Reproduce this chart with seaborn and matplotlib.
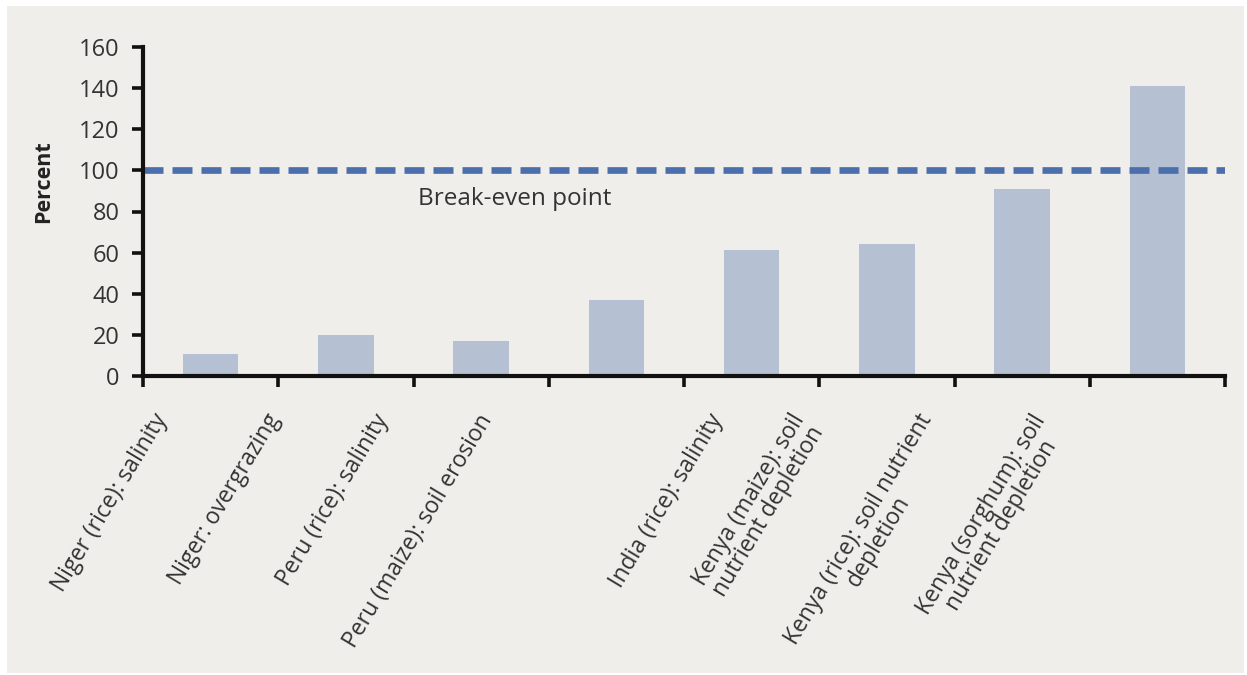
import matplotlib
matplotlib.use("Agg")
import matplotlib.pyplot as plt
import matplotlib.transforms as mtransforms
from matplotlib.patches import Rectangle
import numpy as np
import pandas as pd
import seaborn as sns

# data
categories = [
    "Niger (rice): salinity",
    "Niger: overgrazing",
    "Peru (rice): salinity",
    "Peru (maize): soil erosion",
    "India (rice): salinity",
    "Kenya (maize): soil\nnutrient depletion",
    "Kenya (rice): soil nutrient\ndepletion",
    "Kenya (sorghum): soil\nnutrient depletion",
]
percent = [10.5, 20, 17, 37, 61.5, 64, 91, 141]
break_even = 100
y_ticks = [0, 20, 40, 60, 80, 100, 120, 140, 160]

BG = "#f0eeea"
BAR = "#b5c0d3"
DASH = "#4a6fac"
TXT = "#333333"

sns.set_style("white")
plt.rcParams["font.family"] = ["Open Sans", "DejaVu Sans"]

df = pd.DataFrame({"category": categories, "percent": percent})

fig = plt.figure(figsize=(12.47, 6.75), dpi=100, facecolor="white")
fig.add_artist(Rectangle((7 / 1247, 2 / 675), 1237 / 1247, 667 / 675,
                         transform=fig.transFigure, facecolor=BG,
                         edgecolor="none", zorder=0))
ax = fig.add_axes([143 / 1247, 1 - 376 / 675, 1082 / 1247, 329 / 675])
ax.set_facecolor("none")

sns.barplot(data=df, x="category", y="percent", color=BAR, saturation=1,
            width=0.41, linewidth=0, ax=ax, zorder=2)

ax.axhline(break_even, color=DASH, lw=4.8, dashes=(3, 1.35), zorder=3)
ax.text(1.53, 83, "Break-even point", fontsize=17.5, color=TXT,
        ha="left", va="baseline")

ax.set_xlim(-0.5, len(categories) - 0.5)
ax.set_ylim(0, 160)
ax.set_yticks(y_ticks)
ax.set_yticklabels([str(t) for t in y_ticks], fontsize=17, color=TXT)

# ticks on category boundaries, labels drawn separately
ax.set_xticks(np.arange(-0.5, len(categories), 1))
ax.set_xticklabels([])
ax.set_xlabel("")

for s in ["top", "right"]:
    ax.spines[s].set_visible(False)
for s in ["left", "bottom"]:
    ax.spines[s].set_linewidth(3)
    ax.spines[s].set_color("#111111")
    ax.spines[s].set_zorder(4)
ax.tick_params(axis="both", direction="out", length=8, width=2.6,
               color="#111111", bottom=True, left=True)
ax.tick_params(axis="y", pad=9)

ax.set_ylabel("Percent", fontsize=15.5, fontweight="bold", color="#222222")
ax.yaxis.set_label_coords(-0.092, 0.59)
ax.yaxis.label.set_verticalalignment("center")

# category labels, rotated, as laid out in the reference
label_shift = [-0.43, -0.60, -0.80, -1.03, -0.33, -0.72, -0.78, -0.94]
trans = mtransforms.blended_transform_factory(ax.transData, ax.transAxes)
for i, (lab, sh) in enumerate(zip(categories, label_shift)):
    ax.text(i + sh, -0.103, lab, transform=trans, rotation=59,
            rotation_mode="anchor", ha="right", va="top",
            multialignment="center", fontsize=16.5, color=TXT,
            linespacing=0.95)

fig.savefig("out.png", dpi=100, facecolor=fig.get_facecolor())
